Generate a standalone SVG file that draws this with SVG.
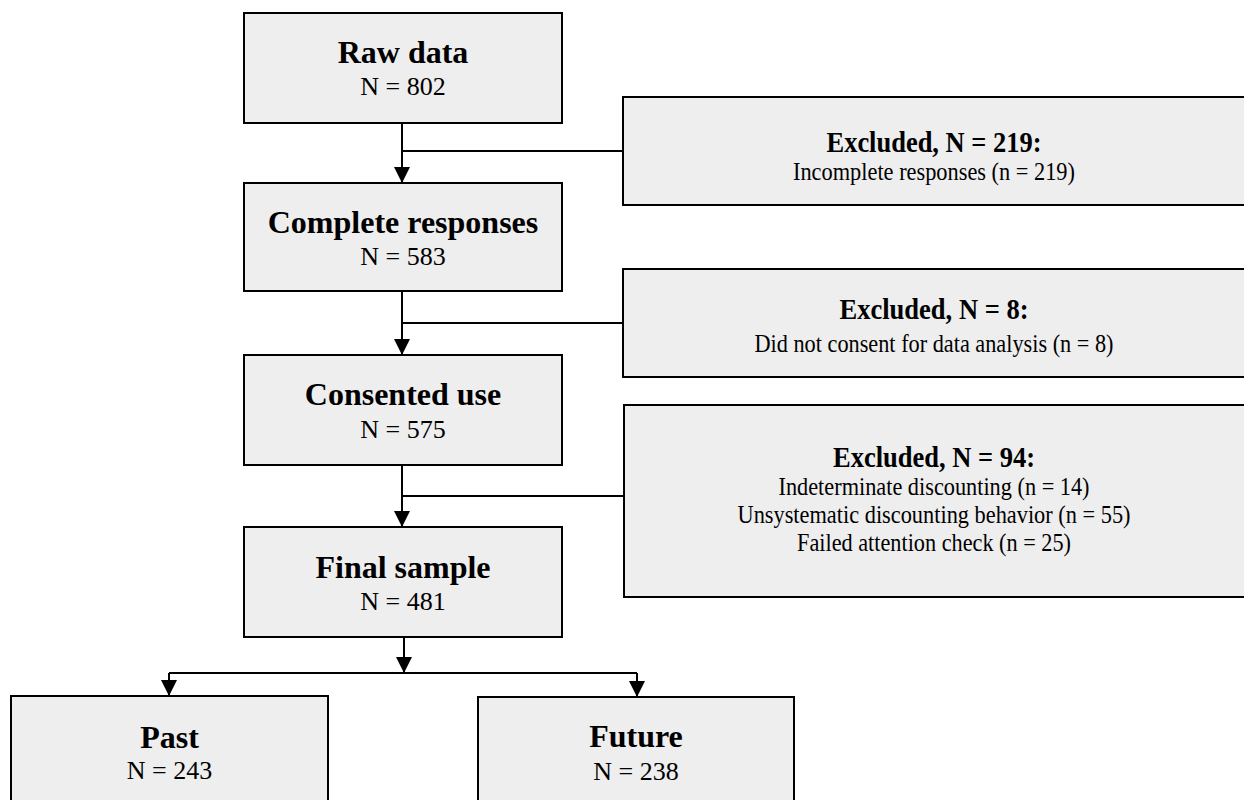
<svg xmlns="http://www.w3.org/2000/svg" width="1244" height="800" viewBox="0 0 1244 800">
<style>
.box{fill:#eeeeee;stroke:#000;stroke-width:2}
.t{font-family:"Liberation Serif","Times New Roman",serif;font-weight:bold;font-size:32px;text-anchor:middle;fill:#000}
.n{font-family:"Liberation Serif","Times New Roman",serif;font-size:26px;text-anchor:middle;fill:#000}
.et{font-family:"Liberation Serif","Times New Roman",serif;font-weight:bold;font-size:29px;text-anchor:middle;fill:#000}
.ed{font-family:"Liberation Serif","Times New Roman",serif;font-size:26px;text-anchor:middle;fill:#000}
.conn{stroke:#000;stroke-width:2;fill:none}
</style>
<defs>
<marker id="arr" markerUnits="userSpaceOnUse" viewBox="0 0 16 16" refX="16" refY="8" markerWidth="16" markerHeight="16" orient="auto">
<path d="M0,0 L16,8 L0,16 z" fill="#000"/>
</marker>
</defs>
<rect width="1244" height="800" fill="#fff"/>
<g id="connectors">
<path class="conn" d="M402,123 V183" marker-end="url(#arr)"/>
<path class="conn" d="M402,151 H623"/>
<path class="conn" d="M402,291 V355" marker-end="url(#arr)"/>
<path class="conn" d="M402,323 H623"/>
<path class="conn" d="M402,465 V527" marker-end="url(#arr)"/>
<path class="conn" d="M402,496 H624"/>
<path class="conn" d="M404,637 V673" marker-end="url(#arr)"/>
<path class="conn" d="M169,673 H637"/>
<path class="conn" d="M169,673 V696" marker-end="url(#arr)"/>
<path class="conn" d="M637,673 V697" marker-end="url(#arr)"/>
</g>
<g id="raw">
<rect class="box" x="244" y="13" width="318" height="110"/>
<text class="t" x="403" y="63">Raw data</text>
<text class="n" x="403" y="95">N = 802</text>
</g>
<g id="complete">
<rect class="box" x="244" y="183" width="318" height="108"/>
<text class="t" x="403" y="233">Complete responses</text>
<text class="n" x="403" y="265">N = 583</text>
</g>
<g id="consented">
<rect class="box" x="244" y="355" width="318" height="110"/>
<text class="t" x="403" y="405">Consented use</text>
<text class="n" x="403" y="438">N = 575</text>
</g>
<g id="final">
<rect class="box" x="244" y="527" width="318" height="110"/>
<text class="t" x="403" y="578">Final sample</text>
<text class="n" x="403" y="610">N = 481</text>
</g>
<g id="past">
<rect class="box" x="11" y="696" width="317" height="120"/>
<text class="t" x="169.5" y="748">Past</text>
<text class="n" x="169.5" y="779">N = 243</text>
</g>
<g id="future">
<rect class="box" x="478" y="697" width="316" height="120"/>
<text class="t" x="636" y="747">Future</text>
<text class="n" x="636" y="780">N = 238</text>
</g>
<g id="excluded1">
<rect class="box" x="623" y="97" width="630" height="108"/>
<text class="et" x="934" y="152" textLength="215" lengthAdjust="spacingAndGlyphs">Excluded, N = 219:</text>
<text class="ed" x="934" y="180" textLength="282" lengthAdjust="spacingAndGlyphs">Incomplete responses (n = 219)</text>
</g>
<g id="excluded2">
<rect class="box" x="623" y="269" width="630" height="108"/>
<text class="et" x="934" y="319" textLength="189" lengthAdjust="spacingAndGlyphs">Excluded, N = 8:</text>
<text class="ed" x="934" y="352" textLength="359" lengthAdjust="spacingAndGlyphs">Did not consent for data analysis (n = 8)</text>
</g>
<g id="excluded3">
<rect class="box" x="624" y="405" width="630" height="192"/>
<text class="et" x="934" y="467" textLength="202" lengthAdjust="spacingAndGlyphs">Excluded, N = 94:</text>
<text class="ed" x="934" y="495" textLength="311" lengthAdjust="spacingAndGlyphs">Indeterminate discounting (n = 14)</text>
<text class="ed" x="934" y="523" textLength="393" lengthAdjust="spacingAndGlyphs">Unsystematic discounting behavior (n = 55)</text>
<text class="ed" x="934" y="551" textLength="274" lengthAdjust="spacingAndGlyphs">Failed attention check (n = 25)</text>
</g>
</svg>
